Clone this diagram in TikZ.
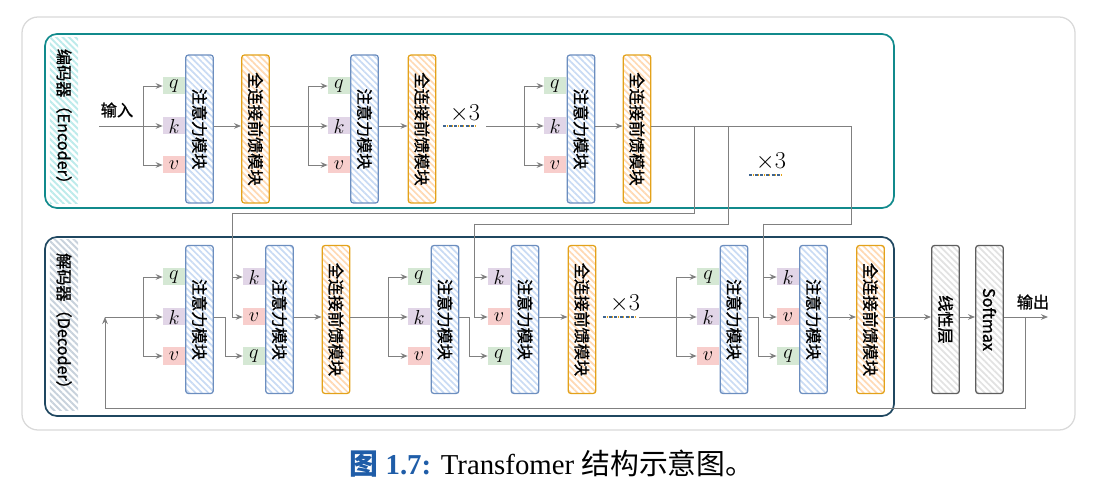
\documentclass[tikz,border=0pt]{standalone}
\usepackage{fontspec}
\setmainfont{Liberation Serif}
\newfontfamily\cjk{Noto Sans CJK SC}
\newfontfamily\cjkb[FakeBold=1.2]{Noto Sans CJK SC}
\usetikzlibrary{arrows.meta,patterns.meta}

\definecolor{attnline}{HTML}{6C8EBF}
\definecolor{attnstripe}{HTML}{C9DBF4}
\definecolor{ffline}{HTML}{E3A21A}
\definecolor{ffstripe}{HTML}{FFD9B3}
\definecolor{grayline}{HTML}{5E5E5E}
\definecolor{graystripe}{HTML}{E2E2E2}
\definecolor{qfill}{HTML}{D5E8D4}
\definecolor{kfill}{HTML}{E1D5E7}
\definecolor{vfill}{HTML}{F8CECC}
\definecolor{encline}{HTML}{118A8C}
\definecolor{encstripe}{HTML}{BDEBEB}
\definecolor{decline}{HTML}{1F4760}
\definecolor{decstripe}{HTML}{C8D2DC}
\definecolor{linegray}{HTML}{808080}
\definecolor{dotblue}{HTML}{3F6590}
\definecolor{capblue}{HTML}{1F5DA8}

\tikzset{
   conn/.style={draw=linegray, line width=0.7pt},
   arr/.style={conn, -{Stealth[length=5pt,width=4pt]}},
   block/.style={line width=0.9pt, rounded corners=2pt, minimum width=0.69cm,
      minimum height=3.7cm, inner sep=0pt, preaction={fill=white},
      font=\cjkb\fontsize{11.5}{13}\selectfont},
   attn/.style={block, draw=attnline,
      pattern={Lines[angle=-45,distance=3.2pt,line width=1.2pt]}, pattern color=attnstripe},
   ff/.style={block, draw=ffline,
      pattern={Lines[angle=-45,distance=3.2pt,line width=1.2pt]}, pattern color=ffstripe},
   outblock/.style={block, draw=grayline,
      pattern={Lines[angle=-45,distance=3.2pt,line width=1.2pt]}, pattern color=graystripe},
   vecbox/.style={minimum width=0.55cm, minimum height=0.425cm, inner sep=0pt,
      font=\fontsize{13.5}{13.5}\selectfont},
   qbox/.style={vecbox, fill=qfill},
   kbox/.style={vecbox, fill=kfill},
   vbox/.style={vecbox, fill=vfill},
   strip/.style={minimum width=0.7cm, inner sep=0pt, font=\cjkb\fontsize{11.5}{13}\selectfont,
      pattern={Lines[angle=-45,distance=3.2pt,line width=1.4pt]}},
   encstrip/.style={strip, minimum height=4.125cm, pattern color=encstripe},
   decstrip/.style={strip, minimum height=4.25cm, pattern color=decstripe},
   encframe/.style={draw=encline, line width=1.2pt, rounded corners=0.3cm},
   decframe/.style={draw=decline, line width=1.2pt, rounded corners=0.3cm},
   outerframe/.style={draw=black!15, line width=0.9pt, rounded corners=0.4cm},
   dotb/.style={draw=dotblue, line width=1.7pt, dash pattern=on 2.2pt off 1.8pt},
   doto/.style={draw=ffline, line width=1.7pt, dash pattern=on 0.7pt off 3.3pt, dash phase=-2.5pt},
   times/.style={font=\fontsize{16}{16}\selectfont},
   txt/.style={font=\cjkb\fontsize{11.5}{13}\selectfont}
}

\begin{document}
\begin{tikzpicture}[x=0.025cm, y=-0.025cm]
   \useasboundingbox (0,0) rectangle (1104,490);
   \draw[outerframe] (22,17) rectangle (1075,430);

   \draw[encframe] (45,34) rectangle (894,208);
   \draw[decframe] (45,237) rectangle (894,416);
   \node[encstrip] (enclabel) at (64,120.5) {\rotatebox{-90}{编码器（Encoder）}};
   \node[decstrip] (declabel) at (64,325) {\rotatebox{-90}{解码器（Decoder）}};

   % encoder
   \node[txt] (input) at (117,110) {输入};
   \coordinate (in) at (99,126);
   \coordinate (eb1) at (143,126);
   \node[qbox] (eq1) at (174,86) {$q$};
   \node[kbox] (ek1) at (174,126) {$k$};
   \node[vbox] (ev1) at (174,165) {$v$};
   \node[attn] (ea1) at (199.5,129) {\rotatebox{-90}{注意力模块}};
   \node[ff] (ef1) at (255.5,129) {\rotatebox{-90}{全连接前馈模块}};

   \coordinate (eb2) at (308,126);
   \node[qbox] (eq2) at (339,86) {$q$};
   \node[kbox] (ek2) at (339,126) {$k$};
   \node[vbox] (ev2) at (339,165) {$v$};
   \node[attn] (ea2) at (364.5,129) {\rotatebox{-90}{注意力模块}};
   \node[ff] (ef2) at (422,129) {\rotatebox{-90}{全连接前馈模块}};

   \coordinate (edot1) at (443,126);
   \coordinate (edot2) at (475,126);
   \node[times] (etimes1) at (465,114) {$\times 3$};
   \coordinate (ere) at (486,126);

   \coordinate (eb3) at (524,126);
   \node[qbox] (eq3) at (555,86) {$q$};
   \node[kbox] (ek3) at (555,126) {$k$};
   \node[vbox] (ev3) at (555,165) {$v$};
   \node[attn] (ea3) at (581,129) {\rotatebox{-90}{注意力模块}};
   \node[ff] (ef3) at (637,129) {\rotatebox{-90}{全连接前馈模块}};

   \coordinate (edot3) at (749,175);
   \coordinate (edot4) at (782,175);
   \node[times] (etimes2) at (771,162) {$\times 3$};

   \draw[conn] (in) -- (eb1);
   \draw[arr] (eb1) |- (eq1);
   \draw[arr] (eb1) -- (ek1);
   \draw[arr] (eb1) |- (ev1);
   \draw[arr] (ea1.east |- ek1) -- (ef1.west |- ek1);
   \draw[conn] (ef1.east |- ek1) -- (eb2);
   \draw[arr] (eb2) |- (eq2);
   \draw[arr] (eb2) -- (ek2);
   \draw[arr] (eb2) |- (ev2);
   \draw[arr] (ea2.east |- ek2) -- (ef2.west |- ek2);
   \draw[dotb] (edot1) -- (edot2);
   \draw[doto] (edot1) -- (edot2);
   \draw[conn] (ere) -- (eb3);
   \draw[arr] (eb3) |- (eq3);
   \draw[arr] (eb3) -- (ek3);
   \draw[arr] (eb3) |- (ev3);
   \draw[arr] (ea3.east |- ek3) -- (ef3.west |- ek3);
   \draw[dotb] (edot3) -- (edot4);
   \draw[doto] (edot3) -- (edot4);

   % decoder
   \coordinate (dstart) at (105,317);
   \coordinate (db1) at (143,317);
   \node[qbox] (dq1) at (174,277) {$q$};
   \node[kbox] (dk1) at (174,317) {$k$};
   \node[vbox] (dv1) at (174,356) {$v$};
   \node[attn] (da1) at (199.5,319.5) {\rotatebox{-90}{注意力模块}};
   \coordinate (dm1) at (225,356);
   \coordinate (ta) at (232,213);
   \node[kbox] (dck1) at (254,277) {$k$};
   \node[vbox] (dcv1) at (254,317) {$v$};
   \node[qbox] (dcq1) at (254,356) {$q$};
   \node[attn] (dca1) at (279.5,319.5) {\rotatebox{-90}{注意力模块}};
   \node[ff] (df1) at (336,319.5) {\rotatebox{-90}{全连接前馈模块}};

   \coordinate (db2) at (388,317);
   \node[qbox] (dq2) at (419,277) {$q$};
   \node[kbox] (dk2) at (419,317) {$k$};
   \node[vbox] (dv2) at (419,356) {$v$};
   \node[attn] (da2) at (445,319.5) {\rotatebox{-90}{注意力模块}};
   \coordinate (dm2) at (469,356);
   \coordinate (tb) at (474,224);
   \node[kbox] (dck2) at (499,277) {$k$};
   \node[vbox] (dcv2) at (499,317) {$v$};
   \node[qbox] (dcq2) at (499,356) {$q$};
   \node[attn] (dca2) at (525,319.5) {\rotatebox{-90}{注意力模块}};
   \node[ff] (df2) at (582,319.5) {\rotatebox{-90}{全连接前馈模块}};

   \coordinate (ddot1) at (603,317);
   \coordinate (ddot2) at (636,317);
   \node[times] (dtimes) at (625,304) {$\times 3$};
   \coordinate (dre) at (639,317);

   \coordinate (db3) at (676,317);
   \node[qbox] (dq3) at (708,277) {$q$};
   \node[kbox] (dk3) at (708,317) {$k$};
   \node[vbox] (dv3) at (708,356) {$v$};
   \node[attn] (da3) at (734,319.5) {\rotatebox{-90}{注意力模块}};
   \coordinate (dm3) at (758,356);
   \coordinate (tc) at (763,224);
   \node[kbox] (dck3) at (788,277) {$k$};
   \node[vbox] (dcv3) at (788,317) {$v$};
   \node[qbox] (dcq3) at (788,356) {$q$};
   \node[attn] (dca3) at (813.5,319.5) {\rotatebox{-90}{注意力模块}};
   \node[ff] (df3) at (870.5,319.5) {\rotatebox{-90}{全连接前馈模块}};

   \node[outblock] (linear) at (945.5,319.5) {\rotatebox{-90}{线性层}};
   \node[outblock] (softmax) at (989.5,319.5) {\rotatebox{-90}{Softmax}};
   \coordinate (junc) at (1025,317);
   \coordinate (out) at (1048,317);
   \node[txt] (output) at (1033,302) {输出};
   \coordinate (fb1) at (1025,408);
   \coordinate (fb2) at (105,408);

   \draw[arr] (junc) -- (fb1) -- (fb2) -- (dstart);
   \draw[arr] (dstart) -- (dk1);
   \draw[arr] (db1) |- (dq1);
   \draw[arr] (db1) |- (dv1);
   \draw[arr] (da1.east |- dk1) -| (dm1) -- (dcq1);
   \draw[arr] (ta) |- (dck1);
   \draw[arr] (ta) |- (dcv1);
   \draw[arr] (dca1.east |- dk1) -- (df1.west |- dk1);
   \draw[conn] (df1.east |- dk1) -- (db2);
   \draw[arr] (db2) |- (dq2);
   \draw[arr] (db2) -- (dk2);
   \draw[arr] (db2) |- (dv2);
   \draw[arr] (da2.east |- dk2) -| (dm2) -- (dcq2);
   \draw[arr] (tb) |- (dck2);
   \draw[arr] (tb) |- (dcv2);
   \draw[arr] (dca2.east |- dk2) -- (df2.west |- dk2);
   \draw[dotb] (ddot1) -- (ddot2);
   \draw[doto] (ddot1) -- (ddot2);
   \draw[conn] (dre) -- (db3);
   \draw[arr] (db3) |- (dq3);
   \draw[arr] (db3) -- (dk3);
   \draw[arr] (db3) |- (dv3);
   \draw[arr] (da3.east |- dk3) -| (dm3) -- (dcq3);
   \draw[arr] (tc) |- (dck3);
   \draw[arr] (tc) |- (dcv3);
   \draw[arr] (dca3.east |- dk3) -- (df3.west |- dk3);
   \draw[arr] (df3.east |- dk3) -- (linear.west |- dk3);
   \draw[arr] (linear.east |- dk3) -- (softmax.west |- dk3);
   \draw[arr] (softmax.east |- dk3) -- (out);

   % encoder to decoder
   \coordinate (eo1) at (694,126);
   \coordinate (eo2) at (728,126);
   \coordinate (eo3) at (851,126);
   \draw[conn] (ef3.east |- ek3) -- (eo3) -- (eo3 |- tc) -- (tc);
   \draw[conn] (eo1) |- (ta);
   \draw[conn] (eo2) |- (tb);

   \node[font=\fontsize{20.5}{24}\selectfont] (caption) at (552,464)
      {{\color{capblue}\cjk\bfseries 图} {\color{capblue}\bfseries 1.7:} Transfomer {\cjk 结构示意图。}};
\end{tikzpicture}
\end{document}
